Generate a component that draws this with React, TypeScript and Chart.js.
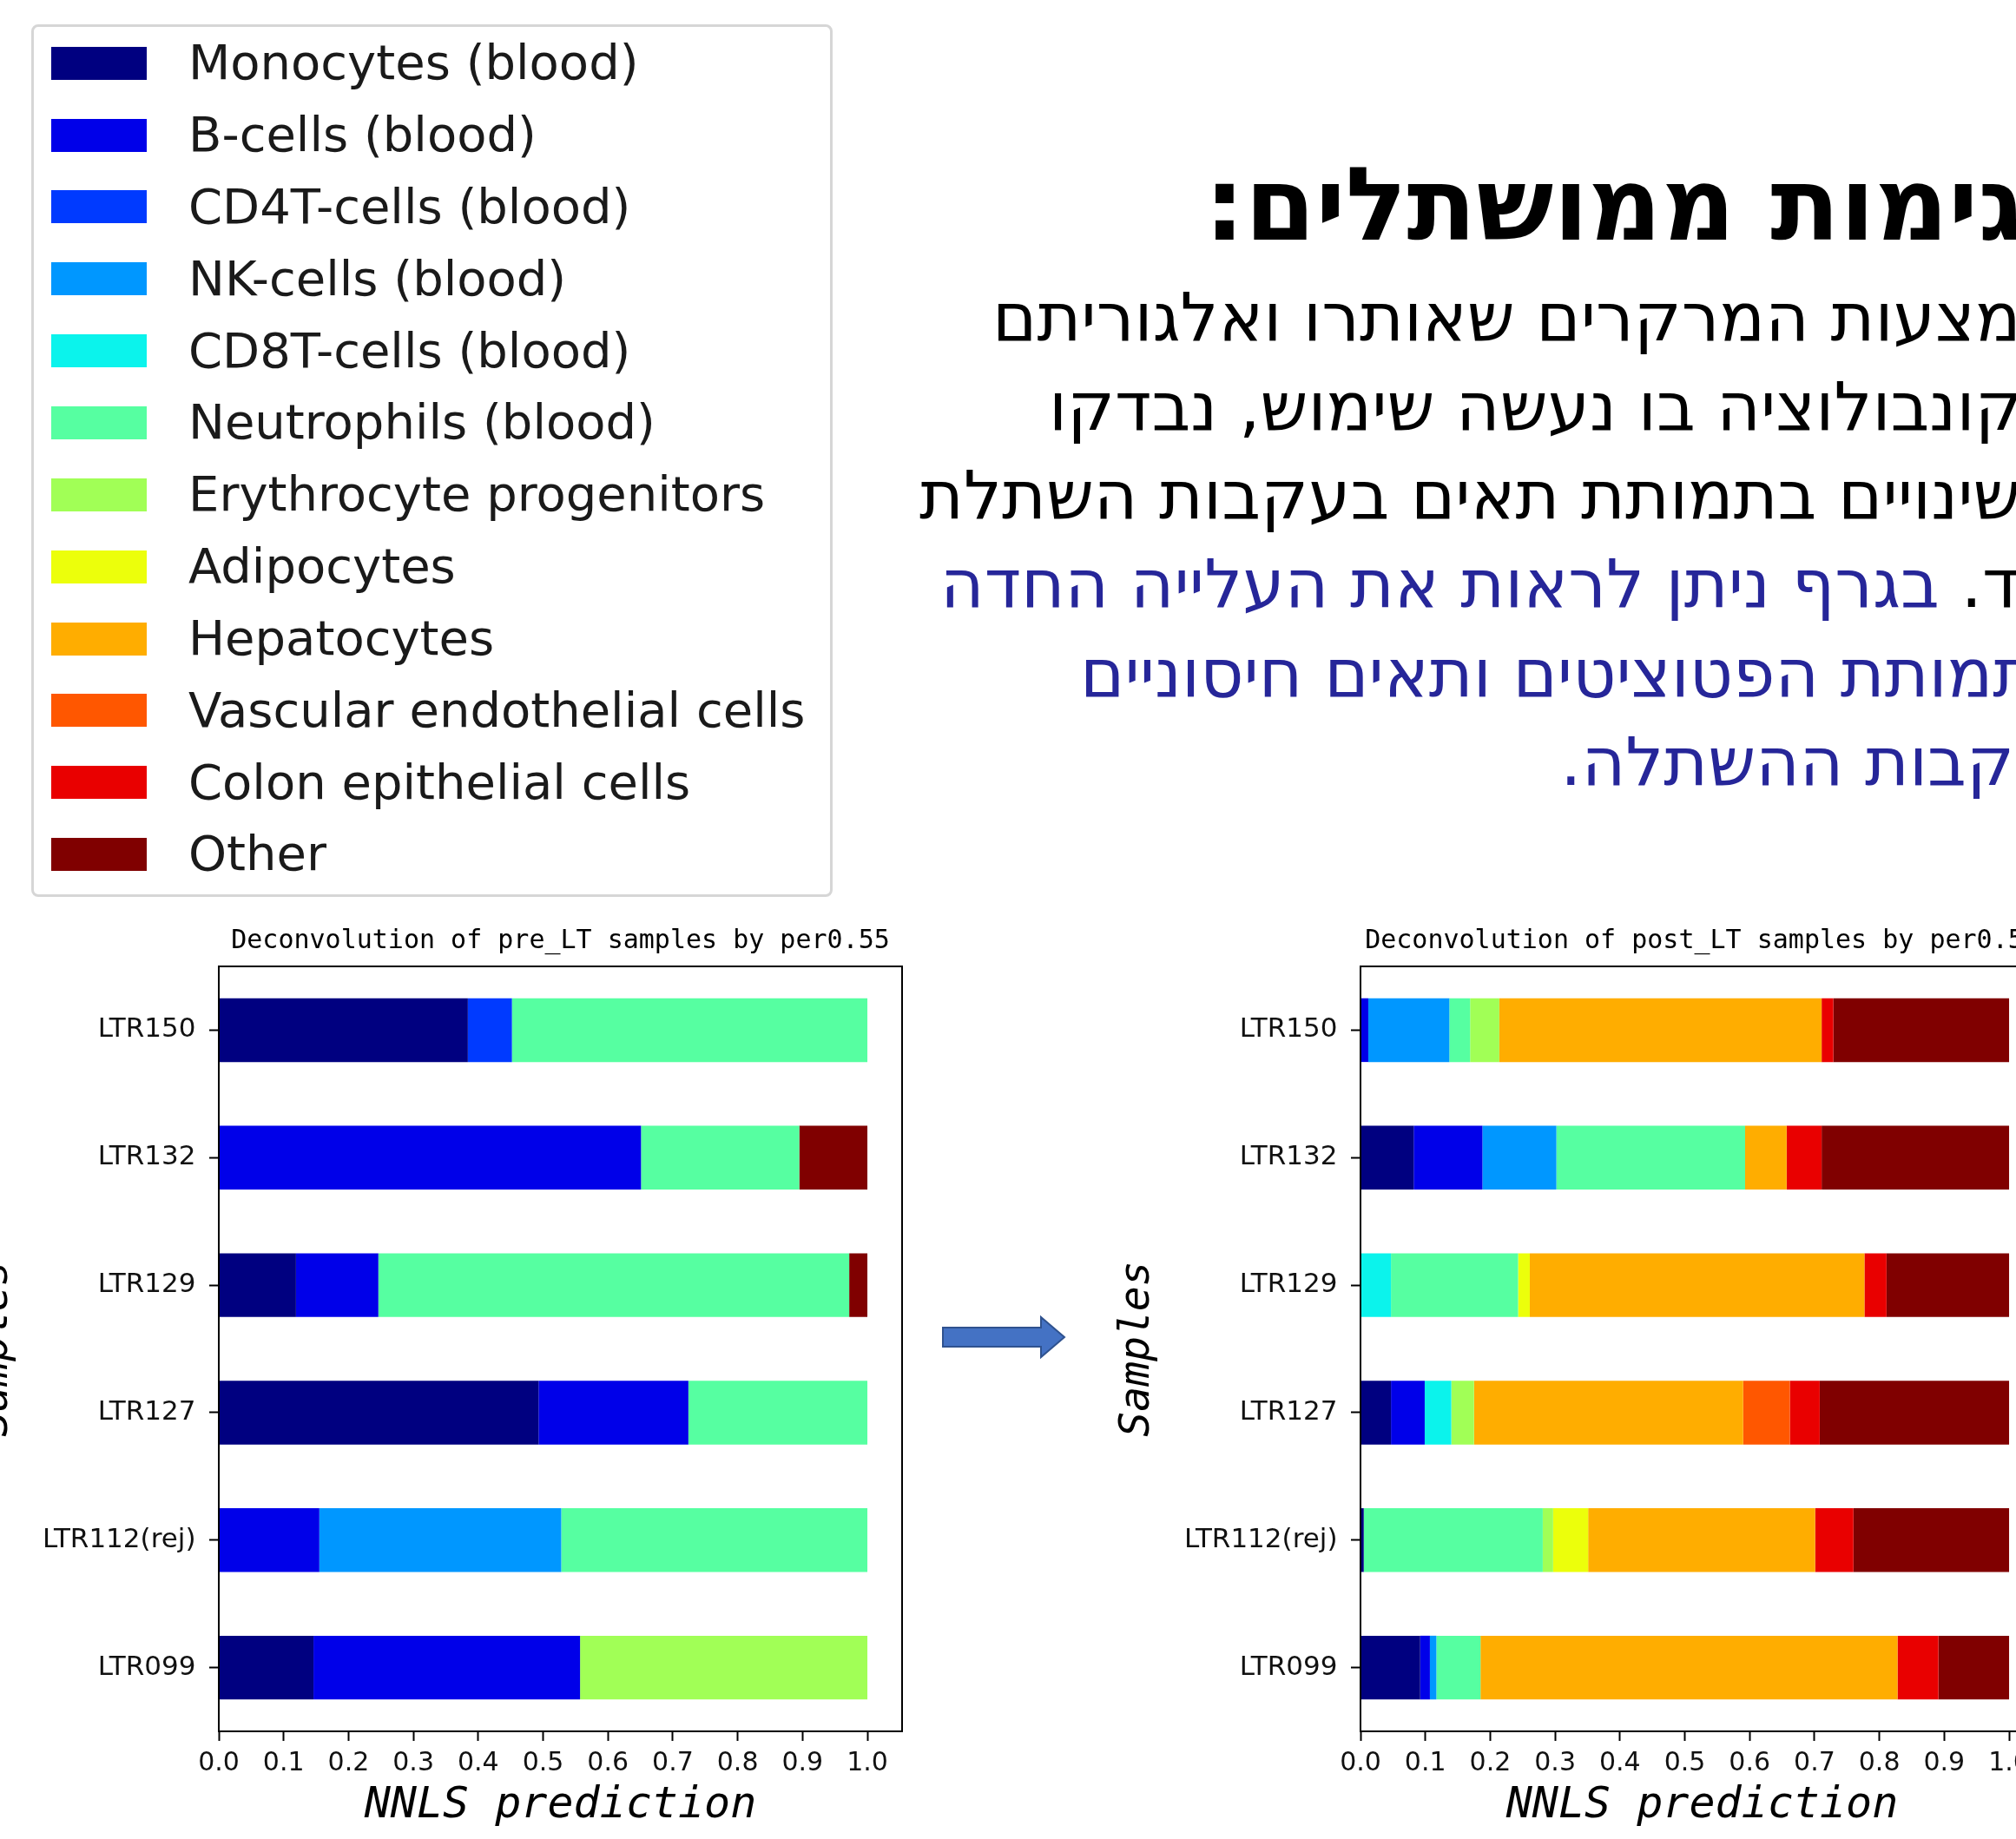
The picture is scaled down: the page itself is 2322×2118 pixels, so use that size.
import React, { useEffect, useRef } from "react";
import { Chart, registerables } from "chart.js";

Chart.register(...registerables);

// ---------- data ----------
const CELL_TYPES = [
  "Monocytes (blood)",
  "B-cells (blood)",
  "CD4T-cells (blood)",
  "NK-cells (blood)",
  "CD8T-cells (blood)",
  "Neutrophils (blood)",
  "Erythrocyte progenitors",
  "Adipocytes",
  "Hepatocytes",
  "Vascular endothelial cells",
  "Colon epithelial cells",
  "Other",
];

const COLORS = [
  "#000080", "#0000E9", "#003AFF", "#0097FF", "#0BF3EC", "#56FFA1",
  "#A1FF56", "#ECFF0B", "#FFAD00", "#FF5700", "#E90000", "#800000",
];

const SAMPLES = ["LTR150", "LTR132", "LTR129", "LTR127", "LTR112(rej)", "LTR099"];

const X_TICKS = [0, 0.1, 0.2, 0.3, 0.4, 0.5, 0.6, 0.7, 0.8, 0.9, 1.0];

// pre_LT proportions per sample (order of CELL_TYPES)
const PRE_LTR150 = [0.384, 0, 0.068, 0, 0, 0.548, 0, 0, 0, 0, 0, 0];
const PRE_LTR132 = [0, 0.651, 0, 0, 0, 0.244, 0, 0, 0, 0, 0, 0.105];
const PRE_LTR129 = [0.119, 0.127, 0, 0, 0, 0.726, 0, 0, 0, 0, 0, 0.028];
const PRE_LTR127 = [0.493, 0.231, 0, 0, 0, 0.276, 0, 0, 0, 0, 0, 0];
const PRE_LTR112 = [0, 0.155, 0, 0.373, 0, 0.472, 0, 0, 0, 0, 0, 0];
const PRE_LTR099 = [0.146, 0.411, 0, 0, 0, 0, 0.443, 0, 0, 0, 0, 0];

// post_LT proportions per sample (order of CELL_TYPES)
const POST_LTR150 = [0, 0.012, 0, 0.125, 0, 0.032, 0.045, 0, 0.497, 0, 0.018, 0.271];
const POST_LTR132 = [0.082, 0.106, 0, 0.114, 0, 0.291, 0, 0, 0.064, 0, 0.054, 0.289];
const POST_LTR129 = [0, 0, 0, 0, 0.047, 0.196, 0, 0.018, 0.516, 0, 0.034, 0.189];
const POST_LTR127 = [0.047, 0.052, 0, 0, 0.041, 0, 0.035, 0, 0.415, 0.072, 0.046, 0.292];
const POST_LTR112 = [0.005, 0, 0, 0, 0, 0.276, 0.016, 0.054, 0.35, 0, 0.059, 0.24];
const POST_LTR099 = [0.092, 0.015, 0, 0.01, 0, 0.068, 0, 0, 0.643, 0, 0.063, 0.109];

const PRE_ROWS = [PRE_LTR150, PRE_LTR132, PRE_LTR129, PRE_LTR127, PRE_LTR112, PRE_LTR099];
const POST_ROWS = [POST_LTR150, POST_LTR132, POST_LTR129, POST_LTR127, POST_LTR112, POST_LTR099];

const PRE_TITLE = "Deconvolution of pre_LT samples by per0.55";
const POST_TITLE = "Deconvolution of post_LT samples by per0.55";
const X_LABEL = "NNLS prediction";
const Y_LABEL = "Samples";

const HE_TITLE = "דגימות ממושתלים:";
const HE_LINE2 = "באמצעות המרקרים שאותרו ואלגוריתם";
const HE_LINE3 = "הדקונבולוציה בו נעשה שימוש, נבדקו";
const HE_LINE4 = "השינויים בתמותת תאים בעקבות השתלת";
const HE_LINE5_BLACK = "הכבד.";
const HE_LINE5_BLUE = " בגרף ניתן לראות את העלייה החדה";
const HE_LINE6 = "בתמותת הפטוציטים ותאים חיסוניים";
const HE_LINE7 = "בעקבות ההשתלה.";

// ---------- chart ----------
const framePlugin = {
  id: "frame",
  afterDraw(chart: any) {
    const { ctx, chartArea: a } = chart;
    ctx.save();
    ctx.strokeStyle = "#000";
    ctx.lineWidth = 2;
    ctx.strokeRect(a.left, a.top, a.right - a.left, a.bottom - a.top);
    ctx.restore();
  },
};

const CANVAS_W = 1100;
const CANVAS_H = 1078;

function DeconvChart({ title, rows, left, top }: { title: string; rows: number[][]; left: number; top: number }) {
  const ref = useRef<HTMLCanvasElement>(null);
  useEffect(() => {
    if (!ref.current) return;
    const datasets = CELL_TYPES.map((name, i) => ({
      label: name,
      data: rows.map((r) => r[i]),
      backgroundColor: COLORS[i],
      borderWidth: 0,
      barPercentage: 0.5,
      categoryPercentage: 1,
    }));
    const chart = new Chart(ref.current, {
      type: "bar",
      data: { labels: SAMPLES, datasets },
      plugins: [framePlugin],
      options: {
        indexAxis: "y",
        responsive: false,
        animation: false,
        devicePixelRatio: 1,
        layout: { padding: { left: 0, top: 0, bottom: 0, right: 13 } },
        font: { family: "'DejaVu Sans'" },
        plugins: {
          legend: { display: false },
          tooltip: { enabled: false },
          title: {
            display: true,
            text: title,
            fullSize: false,
            color: "#000",
            font: { family: "'DejaVu Sans Mono'", size: 30, weight: "normal" },
            padding: { top: 26, bottom: 11 },
          },
        },
        scales: {
          x: {
            type: "linear",
            stacked: true,
            min: 0,
            max: 1.0535,
            position: "bottom",
            afterBuildTicks: (s: any) => {
              s.ticks = X_TICKS.map((v) => ({ value: v }));
            },
            afterFit: (s: any) => {
              s.height = 124;
            },
            ticks: {
              autoSkip: false,
              maxRotation: 0,
              padding: 8,
              color: "#111",
              font: { family: "'DejaVu Sans'", size: 30 },
              callback: (v: any) => Number(v).toFixed(1),
            },
            grid: {
              drawOnChartArea: false,
              drawTicks: true,
              tickLength: 11,
              tickWidth: 2,
              tickColor: "#000",
            },
            border: { display: false },
            title: {
              display: true,
              text: X_LABEL,
              color: "#000",
              font: { family: "'DejaVu Sans Mono'", style: "italic", size: 50 },
              padding: { top: 0, bottom: 8 },
            },
          },
          y: {
            type: "category",
            stacked: true,
            offset: true,
            afterFit: (s: any) => {
              s.width = 300;
            },
            ticks: {
              autoSkip: false,
              padding: 15.5,
              color: "#111",
              font: { family: "'DejaVu Sans'", size: 31 },
            },
            grid: {
              offset: false,
              drawOnChartArea: false,
              drawTicks: true,
              tickLength: 11,
              tickWidth: 2,
              tickColor: "#000",
            },
            border: { display: false },
            title: {
              display: true,
              text: Y_LABEL,
              color: "#000",
              font: { family: "'DejaVu Sans Mono'", style: "italic", size: 48 },
              padding: { top: 15, bottom: 0 },
            },
          },
        },
      } as any,
    });
    return () => chart.destroy();
  }, [title, rows]);
  return (
    <canvas
      ref={ref}
      width={CANVAS_W}
      height={CANVAS_H}
      style={{ position: "absolute", left, top, width: CANVAS_W, height: CANVAS_H }}
    />
  );
}

// ---------- page ----------
const heBase: React.CSSProperties = {
  position: "absolute",
  whiteSpace: "nowrap",
  direction: "rtl",
  fontFamily: "'DejaVu Sans'",
  lineHeight: 1,
  color: "#000",
};
const BODY_FS = 77.5;
const TITLE_FS = 117;
const BLUE = "#262699";

function HeLine({ left, baseline, children, size = BODY_FS, bold = false, color = "#000" }: any) {
  return (
    <div
      style={{
        ...heBase,
        left,
        top: baseline - 0.846 * size,
        fontSize: size,
        fontWeight: bold ? "bold" : "normal",
        color,
      }}
    >
      {children}
    </div>
  );
}

export default function App() {
  const rowH = 82.85;
  return (
    <div
      style={{
        position: "absolute",
        left: 0,
        top: 0,
        width: 2322,
        height: 2118,
        overflow: "hidden",
        background: "#fff",
      }}
    >
      {/* legend */}
      <div
        style={{
          position: "absolute",
          left: 36,
          top: 28,
          width: 923,
          height: 1005,
          boxSizing: "border-box",
          border: "3px solid #d6d6d6",
          borderRadius: 8,
        }}
      />
      {CELL_TYPES.map((name, i) => {
        const cy = 72.7 + rowH * i;
        return (
          <div key={name}>
            <div
              style={{
                position: "absolute",
                left: 59,
                top: cy - 19,
                width: 110,
                height: 38,
                background: COLORS[i],
              }}
            />
            <div
              style={{
                position: "absolute",
                left: 217,
                top: cy - 0.5 * 56 - 0.01 * 56,
                height: 56,
                lineHeight: "56px",
                fontFamily: "'DejaVu Sans'",
                fontSize: 56,
                color: "#1a1a1a",
                whiteSpace: "nowrap",
              }}
            >
              {name}
            </div>
          </div>
        );
      })}

      {/* hebrew text */}
      <HeLine left={1387} baseline={275.5} size={TITLE_FS} bold>
        {HE_TITLE}
      </HeLine>
      <HeLine left={1143} baseline={393}>{HE_LINE2}</HeLine>
      <HeLine left={1208} baseline={496}>{HE_LINE3}</HeLine>
      <HeLine left={1059} baseline={598}>{HE_LINE4}</HeLine>
      <HeLine left={1083} baseline={700}>
        <span style={{ color: "#000" }}>{HE_LINE5_BLACK}</span>
        <span style={{ color: BLUE }}>{HE_LINE5_BLUE}</span>
      </HeLine>
      <HeLine left={1244} baseline={803} color={BLUE}>{HE_LINE6}</HeLine>
      <HeLine left={1797} baseline={905} color={BLUE}>{HE_LINE7}</HeLine>

      {/* arrow */}
      <svg
        style={{ position: "absolute", left: 1080, top: 1510 }}
        width={160}
        height={60}
        viewBox="0 0 160 60"
      >
        <polygon
          points="6,19 119,19 119,7 146,30 119,53 119,41 6,41"
          fill="#4472C4"
          stroke="#2F528F"
          strokeWidth={2}
        />
      </svg>

      <DeconvChart title={PRE_TITLE} rows={PRE_ROWS} left={-48} top={1040} />
      <DeconvChart title={POST_TITLE} rows={POST_ROWS} left={1267} top={1040} />
    </div>
  );
}
